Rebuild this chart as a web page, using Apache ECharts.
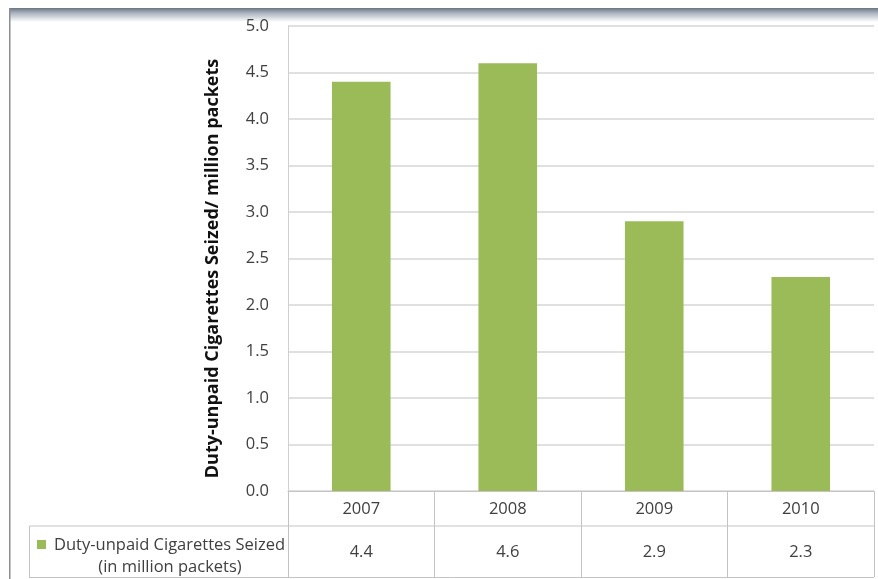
<!DOCTYPE html>
<html>
<head>
<meta charset="utf-8">
<script src="https://cdn.jsdelivr.net/npm/echarts@6/dist/echarts.min.js"></script>
<style>
html,body{margin:0;padding:0;background:#fff;}
#chart{width:878px;height:579px;}
</style>
</head>
<body>
<div id="chart"></div>
<script>
var categories = ['2007', '2008', '2009', '2010'];
var seized = [4.4, 4.6, 2.9, 2.3];
var seriesName = 'Duty-unpaid Cigarettes Seized';
var seriesNameLine2 = '(in million packets)';
var yTitle = 'Duty-unpaid Cigarettes Seized/ million packets';

var FONT = '"Open Sans", "Liberation Sans", sans-serif';
var FS = 16.5;
var ctx = document.createElement('canvas').getContext('2d');
ctx.font = FS + 'px "Open Sans"';
var line1W = Math.ceil(ctx.measureText(seriesName).width);

var chart = echarts.init(document.getElementById('chart'), null, {renderer: 'canvas'});
var gridLeft = 288, gridRight = 4, gridTop = 26, gridBottom = 88;
var option = {
  backgroundColor: '#ffffff',
  animation: false,
  textStyle: {fontFamily: FONT},
  grid: {left: gridLeft, right: gridRight, top: gridTop, bottom: gridBottom},
  legend: {
    left: 37, top: 534, padding: 0,
    itemWidth: 12, itemHeight: 32,
    icon: 'path://M0,0h9v9h-9z M11.99,31.99h0.01v0.01h-0.01z',
    data: [seriesName],
    formatter: function (n) { return '{a|' + n + '}\n{b|' + seriesNameLine2 + '}'; },
    textStyle: {
      fontFamily: FONT, fontSize: FS, color: '#404040', lineHeight: 22,
      rich: {
        a: {fontFamily: FONT, fontSize: FS, color: '#404040', lineHeight: 22},
        b: {fontFamily: FONT, fontSize: FS, color: '#404040', lineHeight: 22, width: line1W, align: 'center'}
      }
    }
  },
  xAxis: [{
    type: 'category', data: categories, position: 'bottom',
    axisLine: {show: true, lineStyle: {color: '#c4c4c4', width: 1}},
    axisTick: {show: true, length: 86, interval: 0, lineStyle: {color: '#c4c4c4'}},
    axisLabel: {color: '#404040', fontSize: FS, fontFamily: FONT, margin: 10},
    splitLine: {show: false}
  }, {
    type: 'category', data: seized.map(function (v) { return v.toFixed(1); }), position: 'bottom', offset: 35,
    axisLine: {show: false}, axisTick: {show: false},
    axisLabel: {color: '#404040', fontSize: FS, fontFamily: FONT, margin: 18}
  }],
  yAxis: {
    type: 'value', min: 0, max: 5, interval: 0.5,
    name: yTitle, nameLocation: 'middle', nameGap: 66, nameRotate: 90,
    nameTextStyle: {fontFamily: FONT, fontSize: 18, fontWeight: 'bold', color: '#111', padding: [0, 20, 0, 0]},
    axisLine: {show: true, lineStyle: {color: '#d0d0d0'}},
    axisTick: {show: false},
    axisLabel: {color: '#404040', fontSize: FS, fontFamily: FONT, margin: 19,
      formatter: function (v) { return v.toFixed(1); }},
    splitLine: {show: true, lineStyle: {color: '#d6d6d6', width: 1.5}}
  },
  series: [{
    name: seriesName, type: 'bar', data: seized, barWidth: '40%',
    itemStyle: {color: '#9bbb59'}
  }],
  graphic: []
};
chart.setOption(option);

// table outline and frame decorations
var yAxisLine = 579 - gridBottom;
var x1 = 878 - gridRight;
chart.setOption({graphic: [
  {type: 'rect', shape: {x: 9, y: 8, width: 869, height: 14}, silent: true,
    style: {fill: new echarts.graphic.LinearGradient(0, 0, 0, 1, [
      {offset: 0, color: '#6a7482'}, {offset: 0.35, color: '#aab2bd'}, {offset: 1, color: '#ffffff'}])}},
  {type: 'rect', shape: {x: 9, y: 8, width: 1.5, height: 571}, silent: true, style: {fill: '#8e8e8e'}},
  {type: 'line', shape: {x1: 29.5, y1: yAxisLine + 35, x2: x1, y2: yAxisLine + 35}, silent: true, style: {stroke: '#c4c4c4', lineWidth: 1}},
  {type: 'line', shape: {x1: 29.5, y1: yAxisLine + 86.5, x2: x1, y2: yAxisLine + 86.5}, silent: true, style: {stroke: '#c4c4c4', lineWidth: 1}},
  {type: 'line', shape: {x1: 29.5, y1: yAxisLine + 35, x2: 29.5, y2: yAxisLine + 87}, silent: true, style: {stroke: '#c4c4c4', lineWidth: 1}}
]});
</script>
</body>
</html>
